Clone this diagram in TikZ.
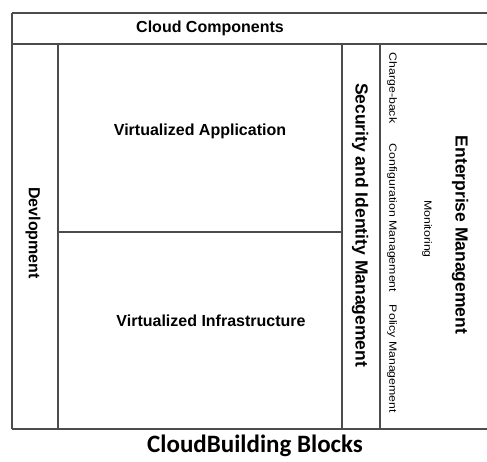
\documentclass[tikz,border=0pt]{standalone}
\usepackage{fontspec}
\setmainfont{Liberation Sans}
\newfontfamily\capfont{Carlito}
\tikzset{
  grid/.style={draw=black!70, line width=1.3pt},
  bigtxt/.style={inner sep=0pt, font=\fontsize{16}{18}\selectfont\bfseries},
  sidetxt/.style={inner sep=0pt, rotate=-90, font=\fontsize{17.5}{19}\selectfont\bfseries},
  smalltxt/.style={inner sep=0pt, rotate=-90, yscale=0.85, font=\fontsize{12.3}{14}\selectfont},
}
\begin{document}
\begin{tikzpicture}[x=1pt,y=-1pt]
\useasboundingbox (0,0) rectangle (487,461);
% grid
\coordinate (tl) at (12,13);
\coordinate (tr) at (487,13);
\coordinate (ml) at (12,44);
\coordinate (mr) at (487,44);
\coordinate (bl) at (12,429);
\coordinate (br) at (487,429);
\coordinate (c1t) at (58,44);  \coordinate (c1b) at (58,429);
\coordinate (c2t) at (342,44); \coordinate (c2b) at (342,429);
\coordinate (c3t) at (380,44); \coordinate (c3b) at (380,429);
\coordinate (hl) at (58,232);  \coordinate (hr) at (342,232);
\draw[grid] (tl) -- (tr);
\draw[grid] (ml) -- (mr);
\draw[grid] (bl) -- (br);
\draw[grid] (tl) -- (bl);
\draw[grid] (c1t) -- (c1b);
\draw[grid] (c2t) -- (c2b);
\draw[grid] (c3t) -- (c3b);
\draw[grid] (hl) -- (hr);
% texts
\node[bigtxt] (cc) at (210,28) {Cloud Components};
\node[bigtxt] (va) at (200,131) {Virtualized Application};
\node[bigtxt] (vi) at (211,321) {Virtualized Infrastructure};
\node[bigtxt, rotate=-90] (dev) at (33,233) {Devlopment};
\node[sidetxt] (sec) at (360,225) {Security and Identity Management};
\node[sidetxt] (ent) at (460,235) {Enterprise Management};
\node[smalltxt] (cb) at (392,88) {Charge-back};
\node[smalltxt] (cm) at (392,218) {Configuration Management};
\node[smalltxt] (pm) at (392,359) {Policy Management};
\node[smalltxt] (mon) at (427,229) {Monitoring};
\node[inner sep=0pt, font=\capfont\fontsize{25}{27}\selectfont\bfseries] (cap) at (255,446) {CloudBuilding Blocks};
\end{tikzpicture}
\end{document}
